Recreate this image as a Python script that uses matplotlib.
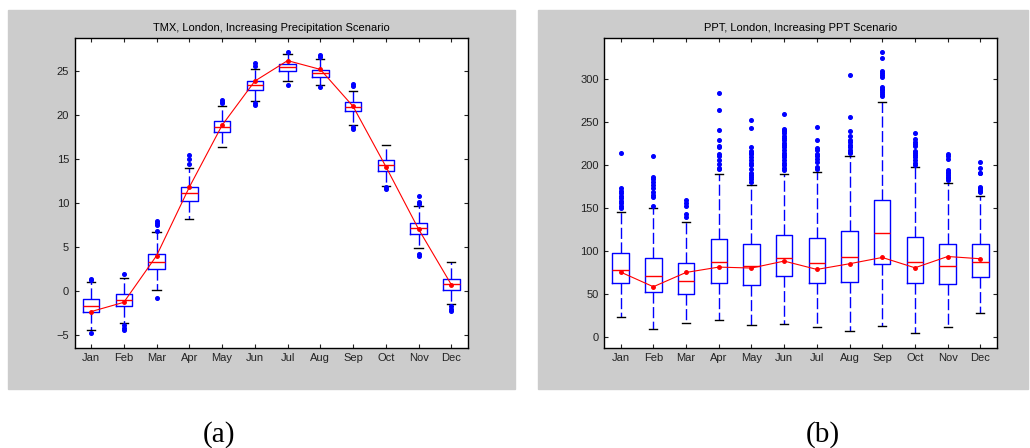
import matplotlib
matplotlib.use("Agg")
import matplotlib.pyplot as plt
from matplotlib.patches import Rectangle

plt.rcParams['font.family'] = ['Liberation Sans', 'DejaVu Sans']

months = ["Jan", "Feb", "Mar", "Apr", "May", "Jun",
          "Jul", "Aug", "Sep", "Oct", "Nov", "Dec"]

# (a) TMX box statistics
tmx_med = [-1.74, -1.10, 3.30, 11.10, 18.67, 23.37, 25.41, 24.77, 20.94, 14.28, 7.08, 0.76]
tmx_q1 = [-2.46, -1.74, 2.46, 10.25, 18.07, 22.88, 25.03, 24.28, 20.42, 13.60, 6.44, 0.11]
tmx_q3 = [-0.98, -0.38, 4.13, 11.80, 19.28, 23.83, 25.76, 25.15, 21.44, 14.89, 7.69, 1.33]
tmx_lo = [-4.50, -3.71, 0.11, 8.20, 16.33, 21.55, 23.86, 23.37, 18.86, 11.93, 4.85, -1.52]
tmx_hi = [0.95, 1.44, 6.70, 14.00, 21.02, 25.19, 27.00, 26.40, 22.73, 16.63, 9.66, 3.22]
tmx_mean = [-2.39, -1.33, 3.98, 11.78, 18.83, 23.86, 26.19, 25.19, 20.98, 14.13, 7.00, 0.68]
tmx_out = [
    [1.33, 1.25, -4.77],
    [1.93, -3.95, -4.20, -4.47],
    [7.92, 7.69, 7.42, 6.75, -0.87],
    [15.49, 14.97, 14.47],
    [21.70, 21.50, 21.33],
    [25.87, 25.60, 21.33, 21.10],
    [27.20, 23.37],
    [26.78, 26.55, 23.22],
    [23.52, 23.30, 18.64, 18.41],
    [11.78, 11.56],
    [10.72, 10.11, 9.89, 4.20, 3.94],
    [-1.78, -2.05, -2.27],
]

# (b) PPT box statistics
ppt_med = [78.2, 71.2, 65.8, 87.8, 82.8, 91.6, 85.8, 93.2, 121.1, 87.0, 82.8, 87.8]
ppt_q1 = [62.6, 53.0, 49.9, 63.4, 60.3, 70.7, 62.6, 64.6, 85.5, 62.6, 61.5, 70.0]
ppt_q3 = [97.4, 91.6, 85.8, 114.8, 108.7, 119.4, 115.3, 123.4, 159.7, 117.1, 109.0, 109.0]
ppt_lo = [23.2, 10.1, 16.2, 20.5, 14.7, 15.5, 11.6, 7.4, 12.8, 5.1, 11.6, 28.3]
ppt_hi = [145.4, 150.8, 133.8, 189.5, 177.1, 189.5, 192.2, 210.4, 273.0, 198.0, 179.1, 164.3]
ppt_mean = [75.8, 58.8, 75.4, 81.6, 80.5, 88.6, 78.9, 85.5, 92.8, 80.8, 93.9, 91.3]
ppt_out = [
    [150.0, 153.1, 155.9, 158.9, 161.6, 164.7, 167.4, 170.1, 173.2, 213.8],
    [152.7, 162.8, 165.5, 169.3, 174.0, 176.7, 180.2, 183.7, 186.7, 210.7],
    [140.3, 143.1, 152.7, 155.9, 159.7],
    [195.3, 196.8, 201.8, 206.4, 210.4, 212.7, 221.2, 222.7, 229.6, 241.2, 264.1, 284.1],
    [180.9, 184.0, 186.4, 189.0, 191.4, 195.6, 199.9, 202.6, 206.1, 209.9, 212.7,
     214.6, 216.9, 221.2, 243.5, 252.8],
    [194.5, 197.2, 199.9, 203.0, 206.4, 209.2, 211.5, 214.6, 218.0, 221.2, 223.8,
     226.2, 229.6, 231.6, 233.6, 237.7, 239.7, 241.2, 242.4, 259.8],
    [195.6, 197.6, 203.4, 207.6, 210.4, 213.4, 218.0, 220.3, 229.6, 244.3],
    [213.8, 215.7, 218.0, 221.2, 223.8, 226.6, 229.3, 233.9, 240.1, 255.9, 305.0],
    [279.9, 282.3, 284.6, 286.9, 288.8, 291.1, 302.3, 304.6, 307.3, 309.6, 324.7, 331.3],
    [200.6, 203.0, 206.1, 209.2, 211.5, 213.8, 216.2, 222.3, 224.6, 227.3, 230.1, 237.0],
    [182.9, 184.9, 186.7, 188.7, 190.7, 192.5, 194.5, 206.9, 210.4, 212.7],
    [169.0, 170.1, 171.3, 173.2, 175.1, 190.3, 191.4, 197.2, 203.4],
]

W, H = 1030, 448
fig = plt.figure(figsize=(W / 100, H / 100), dpi=100)
fig.patch.set_facecolor("white")

# grey panels behind each plot
for x0 in (8, 538):
    w = 507 if x0 == 8 else 490
    fig.add_artist(Rectangle((x0 / W, 1 - 389 / H), w / W, 379 / H,
                             transform=fig.transFigure, color="#cccccc",
                             zorder=-5))


def panel(rect, title, med, q1, q3, lo, hi, out, mean, ylim, yticks):
    ax = fig.add_axes(rect)
    ax.set_facecolor("white")
    pos = list(range(1, len(months) + 1))
    stats = []
    for i in range(len(months)):
        stats.append(dict(med=med[i], q1=q1[i], q3=q3[i], whislo=lo[i],
                          whishi=hi[i], fliers=out[i], label=months[i]))
    ax.bxp(stats, positions=pos, widths=0.5, showfliers=True,
           boxprops=dict(color="blue", lw=1),
           whiskerprops=dict(color="blue", lw=1, ls=(0, (8, 2.5))),
           capprops=dict(color="black", lw=1),
           medianprops=dict(color="red", lw=1),
           flierprops=dict(marker="o", ms=2.6, mfc="blue", mec="blue",
                           ls="none"))
    ax.plot(pos, mean, color="red", lw=0.8, marker="o", ms=2.5)
    ax.set_xlim(0.5, 12.5)
    ax.set_ylim(*ylim)
    ax.set_yticks(yticks)
    ax.set_xticks(pos)
    ax.set_xticklabels(months)
    ax.tick_params(direction="in", top=True, right=True, length=3,
                   labelsize=8, colors="#222222", pad=4)
    for s in ax.spines.values():
        s.set_linewidth(1)
        s.set_color("black")
    ax.set_title(title, fontsize=8, pad=5)
    return ax


panel([74.7 / W, 1 - 347.7 / H, 393 / W, 310 / H],
      "TMX, London, Increasing Precipitation Scenario",
      tmx_med, tmx_q1, tmx_q3, tmx_lo, tmx_hi, tmx_out, tmx_mean,
      (-6.5, 28.8), [-5, 0, 5, 10, 15, 20, 25])
panel([604.3 / W, 1 - 347.7 / H, 392.4 / W, 310 / H],
      "PPT, London, Increasing PPT Scenario",
      ppt_med, ppt_q1, ppt_q3, ppt_lo, ppt_hi, ppt_out, ppt_mean,
      (-12, 348), [0, 50, 100, 150, 200, 250, 300])

fig.text(219 / W, 1 - 435 / H, "(a)", ha="center", va="center",
         family="Liberation Serif", fontsize=21)
fig.text(823 / W, 1 - 435 / H, "(b)", ha="center", va="center",
         family="Liberation Serif", fontsize=21)

fig.savefig("out.png", dpi=100)
